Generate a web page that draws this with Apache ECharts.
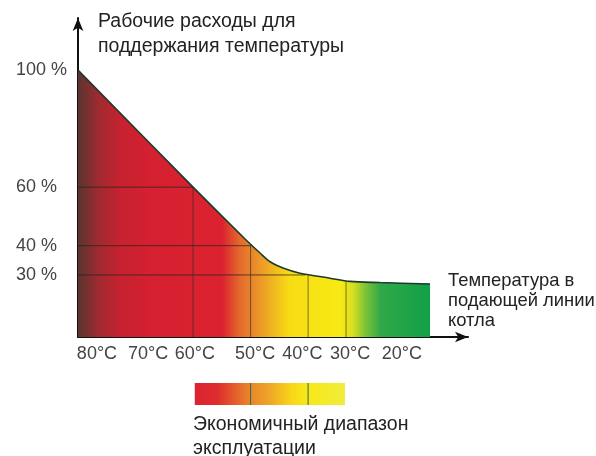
<!DOCTYPE html>
<html><head><meta charset="utf-8">
<script src="https://cdn.jsdelivr.net/npm/echarts@6/dist/echarts.min.js"></script>
<style>html,body{margin:0;padding:0;background:#fff}#c{width:596px;height:456px}</style>
</head><body><div id="c"></div>
<script>
// Curve: operating cost (%) vs boiler flow temperature (°C)
const curveTemps = [18.8, 27.5, 32.7, 36.2, 41.4, 44.0, 46.6, 48.35, 50.96, 60, 80];
const curvePcts  = [26.9, 27.4, 27.8, 28.9, 30.6, 32.1, 34.5, 37.5, 42.3, 60, 100];
const yTickValues = [30, 40, 60, 100];
const xTickLabels = ['80°C', '70°C', '60°C', '50°C', '40°C', '30°C', '20°C'];
const xTickAt     = [76.7, 67.8, 59.7, 49.2, 41.0, 32.7, 23.7];
const hLinePcts = [60, 40, 30];
const hLineEnds = [60, 49.9, 40.5];
const vLineTemps = [60, 50, 40, 33.4];
const vLineTops  = [60, 40, 29.9, 27.7];
const econRange = [59.7, 33.6];
const econMarks = [50, 40];

const X_MIN = 12.2, X_MAX = 80, Y_MIN = 8.8, Y_MAX = 117.8;
const FONT = "'Liberation Sans', Arial, sans-serif";

const chart = echarts.init(document.getElementById('c'), null, {renderer: 'canvas'});

const gridSeries = [];
hLinePcts.forEach((p, i) => {
  gridSeries.push({type: 'line', silent: true, symbol: 'none', z: 3,
    lineStyle: {color: '#2a2222', width: 1, opacity: 0.75},
    data: [[X_MAX, p], [hLineEnds[i], p]]});
});
vLineTemps.forEach((t, i) => {
  gridSeries.push({type: 'line', silent: true, symbol: 'none', z: 3,
    lineStyle: {color: '#2a2a22', width: 1, opacity: 0.6},
    data: [[t, vLineTops[i]], [t, Y_MIN]]});
});

const option = {
  backgroundColor: '#ffffff',
  animation: false,
  textStyle: {fontFamily: FONT},
  title: [
    {text: 'Рабочие расходы для\nподдержания температуры', left: 98, top: 9, padding: 0,
     textStyle: {fontSize: 19.5, lineHeight: 25, fontWeight: 'normal', color: '#222', fontFamily: FONT}},
    {text: 'Температура в\nподающей линии\nкотла', left: 448, top: 271, padding: 0,
     textStyle: {fontSize: 18.4, lineHeight: 20, fontWeight: 'normal', color: '#222', fontFamily: FONT}},
    {text: 'Экономичный диапазон\nэксплуатации', left: 193, top: 413, padding: 0,
     textStyle: {fontSize: 19.5, lineHeight: 24, fontWeight: 'normal', color: '#222', fontFamily: FONT}}
  ],
  grid: {left: 78, right: 128, top: 18, bottom: 119},
  xAxis: {
    type: 'value', inverse: true, min: X_MIN, max: X_MAX,
    axisLine: {show: true, onZero: false, symbol: ['none', 'arrow'], symbolSize: [8, 13],
      lineStyle: {color: '#111', width: 2}},
    axisTick: {show: false},
    splitLine: {show: false},
    axisLabel: {
      customValues: xTickAt, margin: 8, fontSize: 18, color: '#444', fontFamily: FONT,
      showMinLabel: true, showMaxLabel: true,
      formatter: (v) => {
        let best = 0;
        xTickAt.forEach((a, i) => { if (Math.abs(a - v) < Math.abs(xTickAt[best] - v)) best = i; });
        return xTickLabels[best];
      }
    }
  },
  yAxis: {
    type: 'value', min: Y_MIN, max: Y_MAX,
    axisLine: {show: true, onZero: false, symbol: ['none', 'arrow'], symbolSize: [8, 13],
      lineStyle: {color: '#111', width: 2}},
    axisTick: {show: false},
    splitLine: {show: false},
    axisLabel: {
      customValues: yTickValues, align: 'left', margin: 62, fontSize: 18, color: '#444',
      fontFamily: FONT, showMinLabel: true, showMaxLabel: true,
      formatter: (v) => v + ' %'
    }
  },
  series: [
    {
      type: 'line', smooth: 0.3, symbol: 'none', z: 2,
      data: curveTemps.map((t, i) => [t, curvePcts[i]]),
      lineStyle: {color: '#1c3a2a', width: 1.6},
      areaStyle: {
        opacity: 1,
        color: new echarts.graphic.LinearGradient(0, 0, 1, 0, [
          {offset: 0.00, color: '#5a3530'},
          {offset: 0.06, color: '#a02a30'},
          {offset: 0.12, color: '#c62230'},
          {offset: 0.20, color: '#d42030'},
          {offset: 0.41, color: '#dc2230'},
          {offset: 0.46, color: '#e46a2c'},
          {offset: 0.52, color: '#eb9a28'},
          {offset: 0.60, color: '#f8dc14'},
          {offset: 0.745, color: '#f8ea14'},
          {offset: 0.78, color: '#d8e020'},
          {offset: 0.815, color: '#80c438'},
          {offset: 0.86, color: '#30a848'},
          {offset: 1.00, color: '#12a048'}
        ])
      }
    }
  ].concat(gridSeries)
};

chart.setOption(option);

// Legend bar for the economical operating range, positioned via the x scale
const pa = chart.convertToPixel({gridIndex: 0}, [econRange[0], Y_MIN]);
const pb = chart.convertToPixel({gridIndex: 0}, [econRange[1], Y_MIN]);
const barTop = 383, barH = 22;
const graphics = [{
  type: 'rect', shape: {x: pa[0], y: barTop, width: pb[0] - pa[0], height: barH},
  style: {fill: new echarts.graphic.LinearGradient(0, 0, 1, 0, [
    {offset: 0.00, color: '#dc2230'},
    {offset: 0.15, color: '#de2c2e'},
    {offset: 0.35, color: '#e8802a'},
    {offset: 0.50, color: '#eea628'},
    {offset: 0.65, color: '#f8d818'},
    {offset: 0.75, color: '#f8e818'},
    {offset: 1.00, color: '#f0ec3a'}
  ])}
}];
econMarks.forEach((t) => {
  const p = chart.convertToPixel({gridIndex: 0}, [t, Y_MIN]);
  graphics.push({type: 'line', shape: {x1: p[0], y1: barTop, x2: p[0], y2: barTop + barH},
    style: {stroke: '#2f6a50', lineWidth: 1}});
});
chart.setOption({graphic: graphics});
</script>
</body></html>
